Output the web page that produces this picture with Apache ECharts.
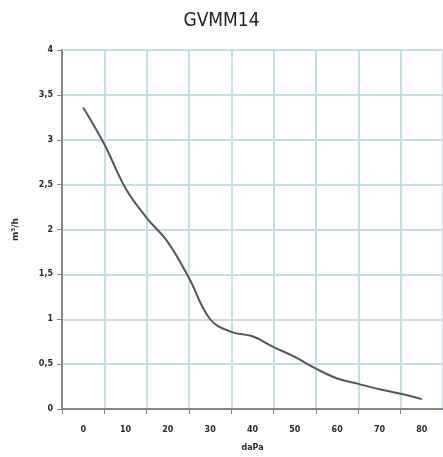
<!DOCTYPE html>
<html>
<head>
<meta charset="utf-8">
<script src="https://cdn.jsdelivr.net/npm/echarts@6/dist/echarts.min.js"></script>
<style>
html,body{margin:0;padding:0;background:#fff;}
#c{width:443px;height:457px;}
</style>
</head>
<body>
<div id="c"></div>
<script>
var title = "GVMM14";
var xCategories = ["0","10","20","30","40","50","60","70","80"];
var yTicks = [0,0.5,1,1.5,2,2.5,3,3.5,4];
var pressure = [0,5,10,15,20,25,30,35,40,45,50,55,60,65,70,75,80];
var flow = [3.36,2.95,2.46,2.13,1.86,1.46,1.0,0.86,0.81,0.69,0.58,0.45,0.34,0.28,0.22,0.17,0.11];

var chart = echarts.init(document.getElementById('c'));
var lineData = pressure.map(function(p,i){return [p, flow[i]];});
var labelStyle = {fontSize:8, fontWeight:'bold', color:'#2a2a2a', fontFamily:'DejaVu Sans'};
chart.setOption({
  animation:false,
  title:{text:title,left:'center',top:7,textStyle:{fontSize:19,fontWeight:'normal',color:'#222',fontFamily:'DejaVu Sans Condensed, DejaVu Sans'}},
  grid:{left:62,right:0,top:50,bottom:47,containLabel:false},
  xAxis:[{
    type:'category',data:xCategories,boundaryGap:true,
    name:'daPa',nameLocation:'middle',nameGap:35,
    nameTextStyle:{fontSize:8,fontWeight:'bold',color:'#2a2a2a',fontFamily:'DejaVu Sans'},
    axisLine:{onZero:false,lineStyle:{color:'#8a8380',width:2}},
    axisTick:{show:true,length:5,lineStyle:{color:'#8a8380'}},
    axisLabel:Object.assign({margin:17},labelStyle),
    splitLine:{show:true,lineStyle:{color:'#c4e0e4',width:2}}
  },{
    type:'value',min:-5,max:85,show:false,
    splitLine:{show:false}
  }],
  yAxis:{
    type:'value',min:0,max:4,interval:0.5,
    name:'m³/h',nameLocation:'middle',nameGap:42,nameRotate:90,
    nameTextStyle:{fontSize:9,fontWeight:'bold',color:'#2a2a2a',fontFamily:'DejaVu Sans'},
    axisLine:{show:true,onZero:false,lineStyle:{color:'#8a8380',width:2}},
    axisTick:{show:true,length:5,lineStyle:{color:'#8a8380'}},
    axisLabel:Object.assign({margin:9,formatter:function(v){return String(v).replace('.',',');}},labelStyle),
    splitLine:{show:true,lineStyle:{color:'#c4e0e4',width:2}}
  },
  series:[{
    type:'line',xAxisIndex:1,data:lineData,smooth:0.4,showSymbol:false,
    lineStyle:{color:'#555',width:2}
  }]
});
</script>
</body>
</html>
